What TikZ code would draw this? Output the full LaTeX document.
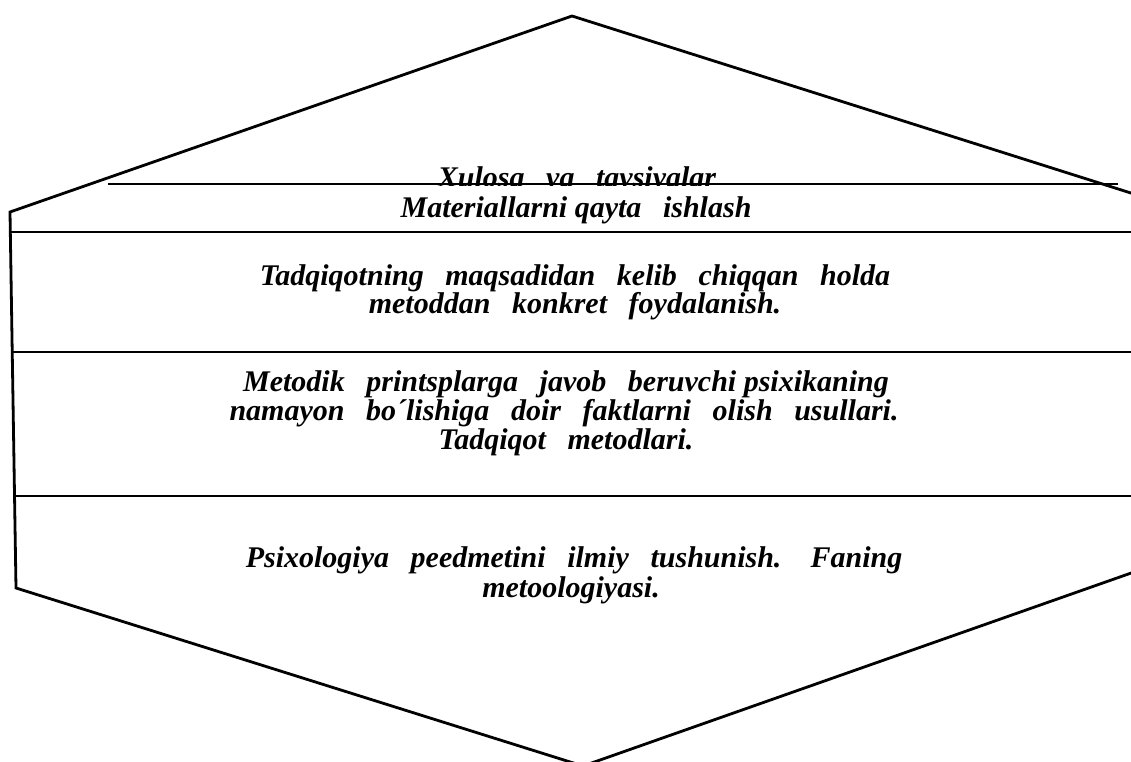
\documentclass[tikz,border=0pt]{standalone}
\usepackage{fontspec}
\setmainfont{Liberation Serif}
\newcommand{\gp}{\hspace{0.72em}}
\begin{document}
\begin{tikzpicture}[x=1pt,y=-1pt,
  edge/.style={line width=2.8pt,line join=miter},
  sep/.style={line width=1.6pt},
  lbl/.style={anchor=base,inner sep=0pt,font=\fontsize{30}{36}\selectfont\bfseries\itshape}]
\useasboundingbox (0,0) rectangle (1131,762);
\clip (0,0) rectangle (1131,762);
% hexagon vertices
\coordinate (top) at (572,16);
\coordinate (ur) at (1134,194);
\coordinate (lr) at (1134,572);
\coordinate (bot) at (583,766);
\coordinate (ll) at (16,588);
\coordinate (ul) at (10,212);
\draw[edge] (top) -- (ur) -- (lr) -- (bot) -- (ll) -- (ul) -- cycle;
% separator lines
\coordinate (a1) at (108,184); \coordinate (a2) at (1118,184);
\coordinate (b1) at (11,232);  \coordinate (b2) at (1131,232);
\coordinate (c1) at (12,352);  \coordinate (c2) at (1131,352);
\coordinate (d1) at (13,496);  \coordinate (d2) at (1131,496);
% texts
\begin{scope}
\clip (0,0) rectangle (1131,185);
\node[lbl] (t0) at (577,187) {Xulosa\gp va\gp tavsiyalar};
\end{scope}
\draw[sep] (a1) -- (a2);
\draw[sep] (b1) -- (b2);
\draw[sep] (c1) -- (c2);
\draw[sep] (d1) -- (d2);
\node[lbl] (t1) at (576,217) {Materiallarni qayta\gp ishlash};
\node[lbl] (t2a) at (575,285) {Tadqiqotning\gp maqsadidan\gp kelib\gp chiqqan\gp holda};
\node[lbl] (t2b) at (575,313) {metoddan\gp konkret\gp foydalanish.};
\node[lbl] (t3a) at (566,391) {Metodik\gp printsplarga\gp javob\gp beruvchi psixikaning};
\node[lbl] (t3b) at (564,420) {namayon\gp bo´lishiga\gp doir\gp faktlarni\gp olish\gp usullari.};
\node[lbl] (t3c) at (566,449) {Tadqiqot\gp metodlari.};
\node[lbl] (t4a) at (574,567) {Psixologiya\gp peedmetini\gp ilmiy\gp tushunish.\gp\ Faning};
\node[lbl] (t4b) at (571,597) {metoologiyasi.};
\end{tikzpicture}
\end{document}
